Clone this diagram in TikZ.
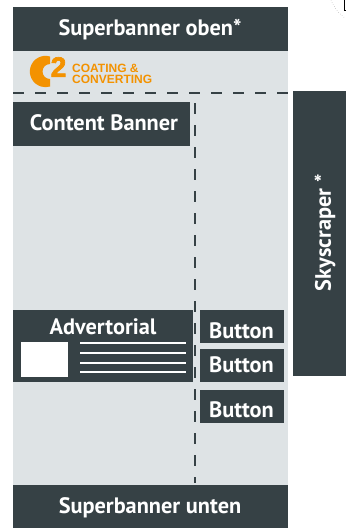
\documentclass[tikz,border=0pt]{standalone}
\usepackage{fontspec}
\setmainfont{PT Sans}
\newfontfamily\logofont{Liberation Sans}
\newfontfamily\logoheavy[FakeBold=2.5]{Liberation Sans Bold}
\usepackage{tikz}
\usepackage{color}
\definecolor{darkbox}{HTML}{364145}
\definecolor{pagebg}{HTML}{DEE3E5}
\definecolor{logoorange}{HTML}{F39200}
\tikzset{
  banner/.style={fill=darkbox,inner sep=0pt,anchor=north west},
  bannertext/.style={text=white,inner sep=0pt,font=\bfseries\fontsize{22.3}{22.3}\selectfont},
  cutline/.style={draw=darkbox,line width=2.6pt,dash pattern=on 11pt off 11pt},
  textline/.style={draw=white,line width=2pt}
}
\begin{document}
\begin{tikzpicture}[x=1pt,y=-1pt]
\useasboundingbox (0,0) rectangle (346,528);
\fill[pagebg] (13,51) rectangle (288,485);
% banners
\node [banner,minimum width=275pt,minimum height=44pt] (oben) at (13,7) {};
\node [bannertext] (obentext) at (150,30) {Superbanner oben*};
\node [banner,minimum width=275pt,minimum height=43pt] (unten) at (13,485) {};
\node [bannertext] (untentext) at (150,508) {Superbanner unten};
\node [banner,minimum width=177pt,minimum height=44pt] (content) at (13,102) {};
\node [bannertext] (contenttext) at (104,123) {Content Banner};
\node [banner,minimum width=53pt,minimum height=285pt] (sky) at (293,91) {};
\node [bannertext,rotate=90] (skytext) at (325,233) {Skyscraper *};
% advertorial
\node [banner,minimum width=180pt,minimum height=72pt] (adv) at (13,310) {};
\node [bannertext] (advtext) at (103,327) {Advertorial};
\node [fill=white,inner sep=0pt,anchor=north west,minimum width=47pt,minimum height=35pt] (advimg) at (21,342) {};
\foreach \y in {343,353,362.5,372}
  \draw [textline] (80,\y) -- (186,\y);
% buttons
\node [banner,minimum width=84pt,minimum height=33pt] (b1) at (200,310) {};
\node [banner,minimum width=84pt,minimum height=33pt] (b2) at (200,349) {};
\node [banner,minimum width=84pt,minimum height=33pt] (b3) at (200,390) {};
\node [bannertext] (b1text) at (241.5,331) {Button};
\node [bannertext] (b2text) at (241.5,365) {Button};
\node [bannertext] (b3text) at (241.5,410) {Button};
% cut lines
\coordinate (hl) at (13,93);
\coordinate (hr) at (288,93);
\coordinate (vt) at (195,103);
\coordinate (vb) at (195,483);
\draw [cutline] (hl) -- (hr);
\draw [cutline] (vt) -- (vb);
% logo
\fill [logoorange] (50,56.5) arc [start angle=73.3,end angle=286.7,radius=15.66pt] -- (50,79) arc [start angle=270,end angle=90,radius=7.5pt] -- cycle;
\node [text=logoorange,inner sep=0pt,font=\logoheavy\fontsize{28}{28}\selectfont] (two) at (58.5,67) {2};
\node [text=logoorange,inner sep=0pt,anchor=west,align=left,font=\logofont\bfseries\fontsize{12}{11}\selectfont] (cc) at (72,74) {COATING \&\\CONVERTING};
% corner scrap
\draw [gray,dotted] (331,0) to [bend right=15] (345,18);
\draw [black,line width=1pt] (344.5,0) -- (344.5,10) -- (346,10);
\end{tikzpicture}
\end{document}
